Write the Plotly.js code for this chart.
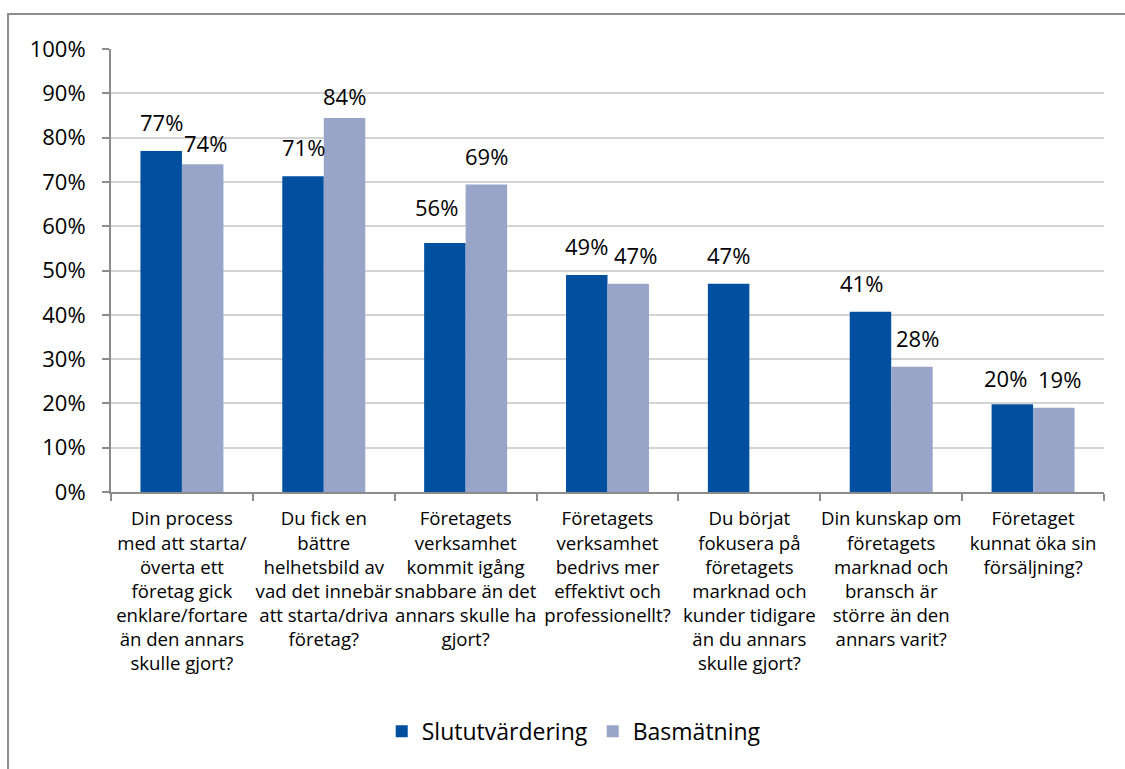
<!DOCTYPE html>
<html>
<head>
<meta charset="utf-8">
<script src="https://cdn.plot.ly/plotly-3.0.1.min.js"></script>
<style>
  html, body { margin: 0; padding: 0; background: #fff; }
  #chart { width: 1125px; height: 769px; }
</style>
</head>
<body>
<div id="chart"></div>
<script>
const categories = [
  "Din process<br>med att starta/<br>överta ett<br>företag gick<br>enklare/fortare<br>än den annars<br>skulle gjort?",
  "Du fick en<br>bättre<br>helhetsbild av<br>vad det innebär<br>att starta/driva<br>företag?",
  "Företagets<br>verksamhet<br>kommit igång<br>snabbare än det<br>annars skulle ha<br>gjort?",
  "Företagets<br>verksamhet<br>bedrivs mer<br>effektivt och<br>professionellt?",
  "Du börjat<br>fokusera på<br>företagets<br>marknad och<br>kunder tidigare<br>än du annars<br>skulle gjort?",
  "Din kunskap om<br>företagets<br>marknad och<br>bransch är<br>större än den<br>annars varit?",
  "Företaget<br>kunnat öka sin<br>försäljning?"
];
const seriesNames = ["Slututvärdering", "Basmätning"];
const slututvardering = [77.0, 71.3, 56.2, 49.0, 47.0, 40.7, 19.8];
const basmatning      = [74.0, 84.4, 69.4, 47.0, null, 28.3, 19.0];
const yTicks = [0, 10, 20, 30, 40, 50, 60, 70, 80, 90, 100];

// style only: small manual nudges of data labels [dx, dy] in px (as in the original)
const labelNudgeSlut = [[0, 0], [0, 0], [-8, 7], [0, 0], [0, 0], [-9, 0], [-7, -3]];
const labelNudgeBas  = [[3, -8], [0, -7], [0, 0], [7, 0], [0, 0], [6, 0], [6, 0]];

const colors = ["#00509F", "#98A5C9"];
const FONT = "'Open Sans', sans-serif";
const BARGAP = 0.415;

const traces = [slututvardering, basmatning].map((vals, i) => ({
  type: "bar",
  name: seriesNames[i],
  x: categories,
  y: vals,
  marker: { color: colors[i] },
  hoverinfo: "skip"
}));

const plotWidthPx = 1125 - 111 - 21;
const catPx = plotWidthPx / categories.length;
const barPx = catPx * (1 - BARGAP) / 2;
const annotations = [];
[[slututvardering, labelNudgeSlut], [basmatning, labelNudgeBas]].forEach(([vals, nudges], i) => {
  vals.forEach((v, j) => {
    if (v === null || v === undefined) return;
    annotations.push({
      x: categories[j], y: v, xref: "x", yref: "y",
      text: Math.round(v) + "%",
      showarrow: false,
      xanchor: "center", yanchor: "bottom",
      xshift: (i === 0 ? -1 : 1) * barPx / 2 + nudges[j][0],
      yshift: 12 + nudges[j][1],
      font: { family: FONT, size: 22, color: "#000" }
    });
  });
});

const layout = {
  width: 1125, height: 769,
  margin: { l: 111, r: 21, t: 49, b: 277 },
  paper_bgcolor: "#ffffff",
  plot_bgcolor: "#ffffff",
  barmode: "group",
  bargap: BARGAP,
  bargroupgap: 0,
  font: { family: FONT, color: "#000" },
  xaxis: {
    type: "category",
    showgrid: false,
    showline: true, linecolor: "#8C8C8C", linewidth: 2,
    ticks: "outside", tickson: "boundaries", ticklen: 7, tickcolor: "#8C8C8C", tickwidth: 2,
    tickfont: { family: FONT, size: 18.6, color: "#000" },
    ticklabelstandoff: 9,
    tickangle: 0,
    fixedrange: true
  },
  yaxis: {
    range: [0, 100],
    tickvals: yTicks,
    ticktext: yTicks.map(t => t + "%"),
    showgrid: true, gridcolor: "#D4D4D4", gridwidth: 2,
    showline: true, linecolor: "#8C8C8C", linewidth: 2,
    ticks: "outside", ticklen: 7, tickcolor: "#8C8C8C", tickwidth: 2,
    tickfont: { family: FONT, size: 22, color: "#000" },
    ticklabelstandoff: 12,
    zeroline: false,
    fixedrange: true
  },
  showlegend: true,
  legend: {
    orientation: "h",
    x: 0.466, xanchor: "center",
    y: -0.54, yanchor: "middle",
    font: { family: FONT, size: 23, color: "#000" },
    itemclick: false, itemdoubleclick: false,
    traceorder: "normal"
  },
  annotations: annotations,
  shapes: [{
    type: "path", xref: "paper", yref: "paper",
    path: "M -0.1037,-0.64 L -0.1037,1.079 L 1.03,1.079",
    line: { color: "#8C8C8C", width: 2 }
  }]
};

Plotly.newPlot("chart", traces, layout, { displayModeBar: false, staticPlot: true });
</script>
</body>
</html>
